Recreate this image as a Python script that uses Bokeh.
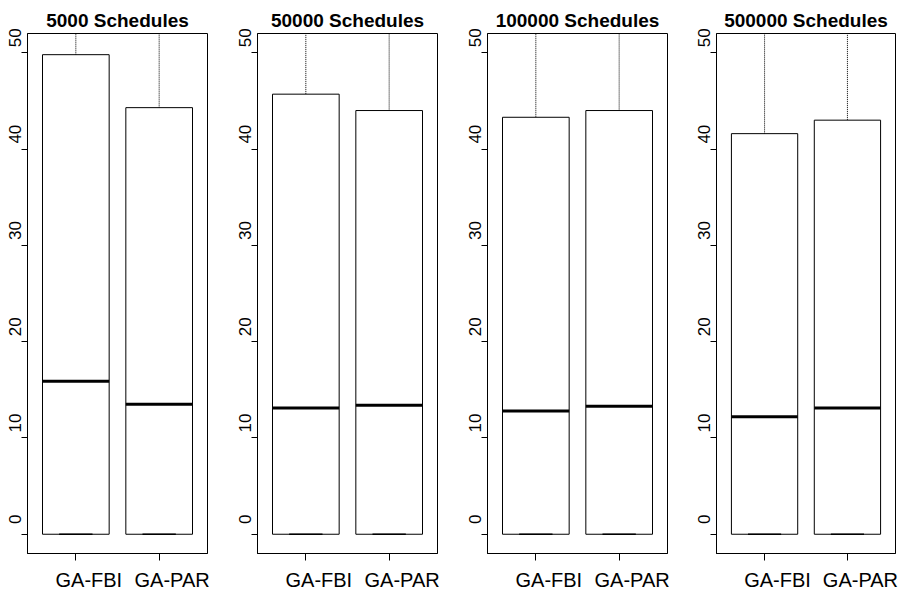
import math
from bokeh.plotting import figure
from bokeh.layouts import row
from bokeh.models import FixedTicker, Range1d, LinearAxis, ColumnDataSource
from bokeh.embed import file_html
from bokeh.resources import INLINE

# ---- data ----
panel_titles = ["5000 Schedules", "50000 Schedules", "100000 Schedules", "500000 Schedules"]
methods = ["GA-FBI", "GA-PAR"]
y_ticks = [0, 10, 20, 30, 40, 50]

fbi_min = [0, 0, 0, 0]
fbi_q1 = [0, 0, 0, 0]
fbi_median = [15.9, 13.1, 12.8, 12.2]
fbi_q3 = [49.8, 45.7, 43.3, 41.6]
fbi_max = [98, 97, 96, 95]

par_min = [0, 0, 0, 0]
par_q1 = [0, 0, 0, 0]
par_median = [13.5, 13.4, 13.3, 13.1]
par_q3 = [44.3, 44.0, 44.0, 43.0]
par_max = [96, 95, 97, 98]

FONT = "Liberation Sans"
HEIGHT = 593
BORDER_TOP = 33
BORDER_BOTTOM = 37
FRAME_H = HEIGHT - BORDER_TOP - BORDER_BOTTOM
widths = [230, 230, 229, 213]
right_borders = [23, 23, 22, 7]
title_offsets = [4, 10, 7, 6]
X0, X1 = 0.42, 2.58
Y0, Y1 = -2.0, 52.0
YLABEL_SHIFT_PX = 15   # the original's rotated labels sit a little above their ticks
XLABEL_SHIFT_PX = 13   # and its bottom labels a little right of theirs

figs = []
for i, title in enumerate(panel_titles):
    frame_w = widths[i] - 27 - right_borders[i]
    p = figure(width=widths[i], height=HEIGHT, output_backend="svg", toolbar_location=None,
               x_range=Range1d(X0, X1), y_range=Range1d(Y0, Y1),
               min_border_left=27, min_border_right=right_borders[i],
               min_border_top=BORDER_TOP, min_border_bottom=BORDER_BOTTOM)
    p.title.text = title
    p.title.align = "center"
    p.title.offset = title_offsets[i]
    p.title.text_font = FONT
    p.title.text_font_size = "19px"
    p.title.text_font_style = "bold"
    p.title.text_color = "black"
    p.title.standoff = 5

    p.background_fill_color = "white"
    p.border_fill_color = "white"
    p.outline_line_color = "black"
    p.outline_line_width = 1
    p.xgrid.grid_line_color = None
    p.ygrid.grid_line_color = None

    xs = [1, 2]
    src = ColumnDataSource(dict(
        x=xs, left=[x - 0.4 for x in xs], right=[x + 0.4 for x in xs],
        sl=[x - 0.2 for x in xs], sr=[x + 0.2 for x in xs],
        mn=[fbi_min[i], par_min[i]], q1=[fbi_q1[i], par_q1[i]],
        med=[fbi_median[i], par_median[i]], q3=[fbi_q3[i], par_q3[i]],
        mx=[fbi_max[i], par_max[i]]))

    # whiskers (dashed) and staples
    p.segment(x0="x", x1="x", y0="q3", y1="mx", source=src, line_color="black",
              line_width=1, line_dash="1 1")
    p.segment(x0="sl", x1="sr", y0="mx", y1="mx", source=src, line_color="black", line_width=1)
    # boxes
    p.quad(left="left", right="right", bottom="q1", top="q3", source=src,
           fill_color="white", line_color="black", line_width=1)
    p.segment(x0="sl", x1="sr", y0="mn", y1="mn", source=src, line_color="black", line_width=1.5)
    # medians
    p.segment(x0="left", x1="right", y0="med", y1="med", source=src,
              line_color="black", line_width=3)

    # x axis: ticks only
    xa = p.xaxis[0]
    xa.ticker = FixedTicker(ticks=xs)
    xa.major_label_overrides = {x: "" for x in xs}
    xa.major_label_standoff = 0
    xa.major_tick_out = 7
    xa.major_tick_in = 0
    xa.minor_tick_line_color = None
    xa.axis_line_color = "black"
    xa.major_tick_line_color = "black"

    # x tick labels on a slightly shifted range
    dx = XLABEL_SHIFT_PX * (X1 - X0) / frame_w
    p.extra_x_ranges = {"xlab": Range1d(X0 - dx, X1 - dx)}
    lx = LinearAxis(x_range_name="xlab", ticker=FixedTicker(ticks=xs))
    lx.major_label_overrides = {x: m for x, m in zip(xs, methods)}
    lx.axis_line_color = None
    lx.major_tick_line_color = None
    lx.minor_tick_line_color = None
    lx.major_tick_out = 0
    lx.major_tick_in = 0
    lx.major_label_standoff = 8
    lx.major_label_text_font = FONT
    lx.major_label_text_font_size = "20px"
    lx.major_label_text_color = "black"
    p.add_layout(lx, "below")

    # y axis: ticks only
    ya = p.yaxis[0]
    ya.ticker = FixedTicker(ticks=y_ticks)
    ya.major_label_overrides = {t: "" for t in y_ticks}
    ya.major_label_standoff = 0
    ya.major_tick_out = 6
    ya.major_tick_in = 0
    ya.minor_tick_line_color = None
    ya.axis_line_color = "black"
    ya.major_tick_line_color = "black"

    # y tick labels on a slightly shifted range
    dy = YLABEL_SHIFT_PX * (Y1 - Y0) / FRAME_H
    p.extra_y_ranges = {"lab": Range1d(Y0 - dy, Y1 - dy)}
    la = LinearAxis(y_range_name="lab", ticker=FixedTicker(ticks=y_ticks))
    la.axis_line_color = None
    la.major_tick_line_color = None
    la.minor_tick_line_color = None
    la.major_tick_out = 0
    la.major_tick_in = 0
    la.major_label_standoff = 0
    la.major_label_orientation = "vertical"
    la.major_label_text_font = FONT
    la.major_label_text_font_size = "17px"
    la.major_label_text_color = "black"
    p.add_layout(la, "left")

    figs.append(p)

layout = row(*figs, spacing=0)
open("out.html", "w").write(file_html(layout, INLINE))
